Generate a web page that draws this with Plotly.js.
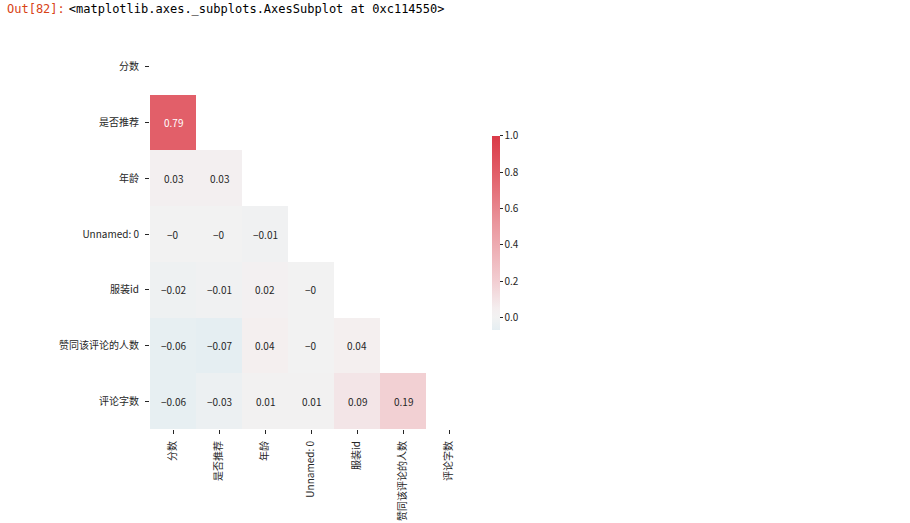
<!DOCTYPE html>
<html>
<head>
<meta charset="utf-8">
<script src="https://cdn.plot.ly/plotly-3.0.1.min.js"></script>
<style>
  body { margin: 0; background: #fff; }
  #out { position: absolute; left: 7px; top: 2px; font-family: "DejaVu Sans Mono", monospace; font-size: 12px; color: #000; z-index: 2; }
  #out .p { color: #d84315; margin-right: 4px; }
  #chart { width: 910px; height: 523px; }
</style>
</head>
<body>
<div id="out"><span class="p">Out[82]:</span>&lt;matplotlib.axes._subplots.AxesSubplot at 0xc114550&gt;</div>
<div id="chart"></div>
<script>
// column order of the correlation matrix
const labels = ['分数', '是否推荐', '年龄', 'Unnamed: 0', '服装id', '赞同该评论的人数', '评论字数'];

// lower triangle (diagonal and above are masked)
const row0 = [];
const row1 = [0.79];
const row2 = [0.03, 0.03];
const row3 = [-0, -0, -0.01];
const row4 = [-0.02, -0.01, 0.02, -0];
const row5 = [-0.06, -0.07, 0.04, -0, 0.04];
const row6 = [-0.06, -0.03, 0.01, 0.01, 0.09, 0.19];
const lower = [row0, row1, row2, row3, row4, row5, row6];

const cbTicks = [0, 0.2, 0.4, 0.6, 0.8, 1.0];

const n = labels.length;
const z = lower.map(r => labels.map((_, j) => j < r.length ? r[j] : null));

function fmt(v) {
    if (v === 0) return Object.is(v, -0) ? '\u22120' : '0';
    return String(v).replace('-', '\u2212');
}

const annotations = [];
lower.forEach((r, i) => {
    r.forEach((v, j) => {
        annotations.push({
            x: labels[j], y: labels[i], xref: 'x', yref: 'y',
            text: fmt(v), showarrow: false,
            font: { size: 10, color: v > 0.5 ? '#ffffff' : '#262626' }
        });
    });
});

const trace = {
    type: 'heatmap',
    x: labels,
    y: labels,
    z: z,
    zmin: -0.07,
    zmax: 1.0,
    hoverongaps: false,
    colorscale: [
        [0, 'rgb(229,238,242)'],
        [0.0654, 'rgb(242,242,242)'],
        [0.11, 'rgb(244,238,239)'],
        [0.25, 'rgb(242,206,210)'],
        [0.55, 'rgb(234,150,157)'],
        [0.8, 'rgb(226,96,106)'],
        [1, 'rgb(218,58,72)']
    ],
    colorbar: {
        x: 1.062, xanchor: 'left', xpad: 0,
        y: 0.5026, yanchor: 'middle', ypad: 0,
        len: 194, lenmode: 'pixels',
        thickness: 8,
        outlinewidth: 0,
        tickvals: cbTicks,
        tickformat: '.1f',
        ticks: 'outside', ticklen: 3, tickcolor: '#262626',
        tickfont: { size: 10, color: '#262626' }
    }
};

const layout = {
    width: 910, height: 523,
    margin: { l: 150, r: 438, t: 39, b: 94 },
    paper_bgcolor: '#fff',
    plot_bgcolor: '#fff',
    font: { family: '"Noto Sans CJK SC", "DejaVu Sans", sans-serif', size: 10, color: '#262626' },
    xaxis: {
        type: 'category',
        range: [-0.5, n - 0.5],
        tickangle: -90,
        ticks: 'outside', ticklen: 4, tickcolor: '#262626',
        ticklabelstandoff: 3,
        showgrid: false, zeroline: false, showline: false,
        fixedrange: true
    },
    yaxis: {
        type: 'category',
        range: [n - 0.5, -0.5],
        ticks: 'outside', ticklen: 4, tickcolor: '#262626',
        ticklabelstandoff: 4,
        showgrid: false, zeroline: false, showline: false,
        fixedrange: true
    },
    annotations: annotations
};

Plotly.newPlot('chart', [trace], layout, { displayModeBar: false, staticPlot: true });
</script>
</body>
</html>
